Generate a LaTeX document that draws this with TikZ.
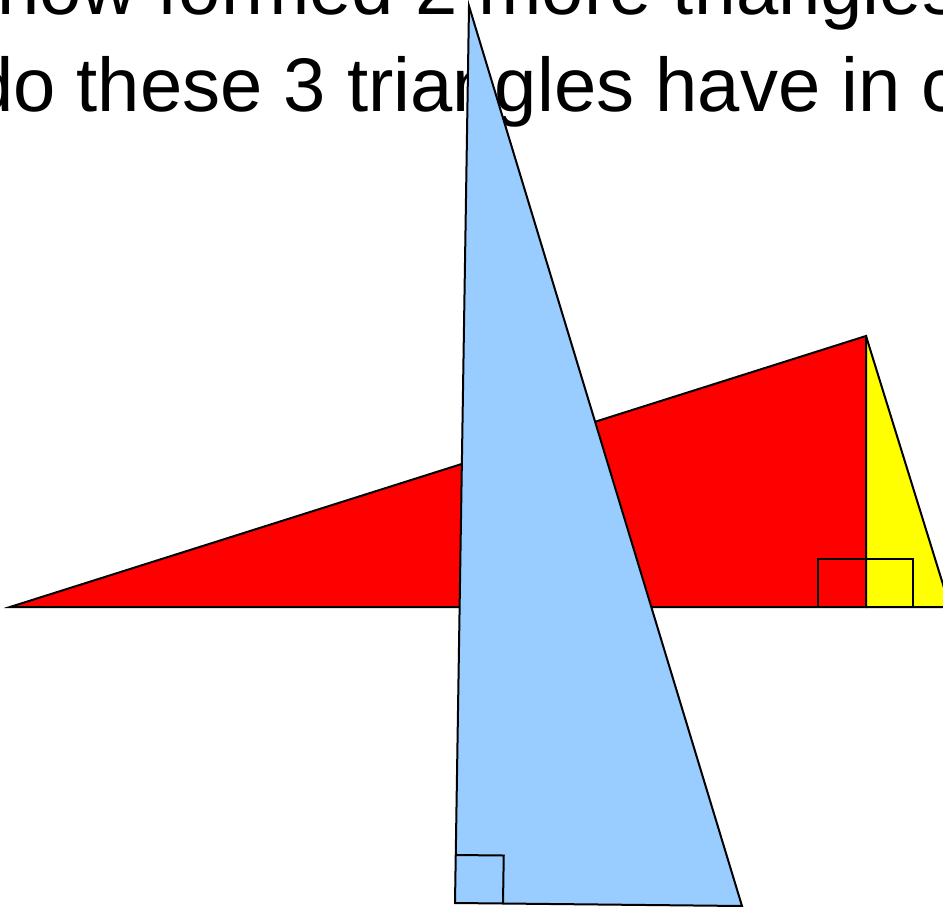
\documentclass[tikz,border=0pt]{standalone}
\usepackage{fontspec}
\setmainfont{Liberation Sans}
\usetikzlibrary{calc}
\definecolor{trired}{HTML}{FF0000}
\definecolor{triyellow}{HTML}{FFFF00}
\definecolor{triblue}{HTML}{99CCFF}

\begin{document}
\begin{tikzpicture}[
    x=1pt, y=-1pt,
    every node/.style={inner sep=0pt, anchor=base west, font=\fontsize{76}{91}\selectfont},
    tri/.style={draw=black, line width=2pt, line join=miter},
    rightangle/.style={draw=black, line width=2pt}
]
\useasboundingbox (0,0) rectangle (943,907);
\clip (0,0) rectangle (943,907);
% slide text
\node (lineone) at (-3,15) {now formed 2 more triangles};
\node (linetwo) at (-29,111) {do these 3 triangles have in c};
% big red triangle and yellow one beside it
\coordinate (redleft) at (10,607);
\coordinate (apex) at (866,336);
\coordinate (foot) at (866,607);
\coordinate (yelright) at (950,607);
\fill[trired] (redleft) -- (apex) -- (foot) -- cycle;
\fill[triyellow] (apex) -- (foot) -- (yelright) -- cycle;
\draw[tri] (redleft) -- (apex) -- (foot) -- cycle;
\draw[tri] (apex) -- (yelright) -- (foot);
\draw[tri] (redleft) -- (yelright);
\draw[rightangle] (foot) rectangle (818,559);
\draw[rightangle] (foot) rectangle (913,559);
% blue triangle on top
\coordinate (bluetop) at (469,6);
\coordinate (bluecorner) at (455,903);
\coordinate (blueright) at (742,906);
\filldraw[tri, fill=triblue] (bluetop) -- (bluecorner) -- (blueright) -- cycle;
\draw[rightangle] ($(bluecorner)!48pt!(bluetop)$)
    -- ($($(bluecorner)!48pt!(bluetop)$)+($(bluecorner)!48pt!(blueright)$)-(bluecorner)$)
    -- ($(bluecorner)!48pt!(blueright)$);
\end{tikzpicture}
\end{document}
